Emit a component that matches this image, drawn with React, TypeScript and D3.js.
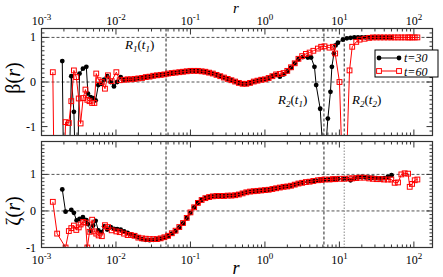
import React from "react";
import * as d3 from "d3";

// t = 30 : log10(r) grid and the two correlation functions
const logR30 = [
  -2.721, -2.677, -2.6, -2.565, -2.529, -2.489, -2.444, -2.398, -2.377, -2.341,
  -2.307, -2.273, -2.237, -2.197, -2.159, -2.118, -2.071, -2.027, -1.984, -1.937,
  -1.89, -1.843, -1.8, -1.75, -1.7, -1.65, -1.6, -1.55, -1.5, -1.45,
  -1.4, -1.35, -1.3, -1.25, -1.2, -1.15, -1.1, -1.05, -1.0, -0.95,
  -0.9, -0.85, -0.8, -0.75, -0.7, -0.65, -0.6, -0.55, -0.5, -0.45,
  -0.4, -0.35, -0.3, -0.25, -0.2, -0.15, -0.1, -0.05, 0.0, 0.05,
  0.1, 0.15, 0.2, 0.25, 0.3, 0.35, 0.4, 0.45, 0.509, 0.576,
  0.62, 0.665, 0.688, 0.742, 0.795, 0.845, 0.88, 0.899, 0.926, 0.948,
  0.98, 1.047, 1.1, 1.15, 1.2, 1.25, 1.3, 1.35, 1.4, 1.45,
  1.5, 1.55, 1.6, 1.65, 1.7,
];
const beta30 = [
  0.47, -6, 0.13, -0.67, -3, 0.19, 0.3, 0.34, -0.26, -0.34,
  -0.36, -0.41, -0.07, -0.04, 0.05, 0.13, 0.0, -0.1, 0.0, 0.11,
  0.05, 0.06, 0.06, 0.06, 0.08, 0.1, 0.11, 0.12, 0.13, 0.15,
  0.16, 0.17, 0.18, 0.2, 0.21, 0.22, 0.23, 0.24, 0.25, 0.25,
  0.25, 0.24, 0.23, 0.21, 0.19, 0.16, 0.13, 0.1, 0.07, 0.04,
  0.01, -0.02, -0.04, -0.04, -0.02, 0.01, 0.03, 0.05, 0.06, 0.08,
  0.13, 0.16, 0.12, 0.17, 0.24, 0.32, 0.42, 0.51, 0.56, 0.55,
  0.55, 0.34, -0.07, -0.6, -2.0, -0.82, -0.22, 0.34, 0.64, 0.82,
  0.88, 0.95, 0.98, 0.99, 1.0, 1.0, 1.0, 1.0, 1.0, 1.0,
  1.0, 1.0, 1.0, 1.0, 1.0,
];
const zeta30 = [
  0.59, -0.02, 0.03, -0.05, -0.26, -0.22, -0.17, -0.25, -0.36, -0.55,
  -0.4, -0.27, -0.53, -0.58, -0.42, -0.51, -0.44, -0.49, -0.5, -0.51,
  -0.56, -0.6, -0.64, -0.68, -0.72, -0.77, -0.79, -0.8, -0.79, -0.78,
  -0.76, -0.73, -0.69, -0.62, -0.55, -0.45, -0.34, -0.2, -0.05, 0.1,
  0.22, 0.3, 0.35, 0.38, 0.4, 0.41, 0.41, 0.41, 0.42, 0.42,
  0.43, 0.45, 0.48, 0.51, 0.53, 0.54, 0.55, 0.56, 0.57, 0.58,
  0.6, 0.62, 0.64, 0.66, 0.67, 0.69, 0.72, 0.75, 0.77, 0.8,
  0.81, 0.82, 0.83, 0.84, 0.85, 0.86, 0.86, 0.86, 0.87, 0.87,
  0.88, 0.88, 0.88, 0.84, 0.89, 0.92, 0.93, 0.92, 0.91, 0.91,
  0.9, 0.89, 0.9, 0.93, 0.98,
];

// t = 60
const logR60 = [
  -2.848, -2.79, -2.677, -2.633, -2.6, -2.565, -2.533, -2.5, -2.475, -2.441,
  -2.41, -2.385, -2.355, -2.32, -2.29, -2.265, -2.233, -2.19, -2.148, -2.108,
  -2.058, -1.995, -1.95, -1.892, -1.843, -1.8, -1.75, -1.7, -1.65, -1.6,
  -1.55, -1.5, -1.45, -1.4, -1.35, -1.3, -1.25, -1.2, -1.15, -1.1,
  -1.05, -1.0, -0.95, -0.9, -0.85, -0.8, -0.75, -0.7, -0.65, -0.6,
  -0.55, -0.5, -0.45, -0.4, -0.35, -0.3, -0.25, -0.2, -0.15, -0.1,
  -0.05, 0.0, 0.05, 0.1, 0.15, 0.2, 0.25, 0.3, 0.35, 0.4,
  0.45, 0.5, 0.55, 0.6, 0.65, 0.711, 0.755, 0.8, 0.867, 0.913,
  0.943, 1.001, 1.065, 1.136, 1.172, 1.226, 1.271, 1.338, 1.4, 1.45,
  1.5, 1.55, 1.6, 1.65, 1.697, 1.742, 1.787, 1.832, 1.876, 1.922,
  1.944, 1.976, 2.011, 2.047,
];
const beta60 = [
  0.22, -8, -0.9, -0.92, -0.43, 0.26, 0.11, -0.37, -0.93, -0.36,
  -0.17, -0.4, -0.43, -0.47, -0.47, 0.19, 0.04, 0.0, -0.15, 0.15,
  0.02, 0.22, 0.04, 0.05, 0.06, 0.06, 0.07, 0.08, 0.09, 0.11,
  0.12, 0.14, 0.15, 0.16, 0.17, 0.19, 0.2, 0.21, 0.22, 0.23,
  0.24, 0.25, 0.25, 0.25, 0.24, 0.23, 0.21, 0.19, 0.16, 0.13,
  0.1, 0.07, 0.04, 0.01, -0.02, -0.04, -0.04, -0.02, 0.01, 0.03,
  0.05, 0.06, 0.09, 0.13, 0.17, 0.18, 0.2, 0.25, 0.33, 0.42,
  0.52, 0.58, 0.63, 0.66, 0.7, 0.75, 0.79, 0.8, 0.77, 0.79,
  0.64, 0.0, -3.3, 0.26, 0.79, 0.9, 0.95, 0.97, 0.99, 1.0,
  1.0, 1.0, 1.0, 1.0, 1.0, 1.0, 1.0, 1.0, 1.0, 1.0,
  1.0, 1.0, 1.0, 1.0,
];
const zeta60 = [
  0.25, -0.62, -1.0, -0.55, -0.47, -0.4, -0.52, -0.45, -0.37, -0.3,
  -0.32, -1.0, -0.57, -0.24, -0.56, -0.62, -0.67, -0.69, -0.39, -0.44,
  -0.53, -0.56, -0.58, -0.62, -0.66, -0.66, -0.68, -0.73, -0.75, -0.76,
  -0.77, -0.77, -0.77, -0.75, -0.72, -0.68, -0.61, -0.54, -0.44, -0.33,
  -0.19, -0.04, 0.1, 0.22, 0.3, 0.35, 0.38, 0.4, 0.41, 0.41,
  0.41, 0.42, 0.42, 0.43, 0.45, 0.48, 0.51, 0.53, 0.54, 0.55,
  0.56, 0.57, 0.58, 0.6, 0.62, 0.64, 0.66, 0.67, 0.69, 0.72,
  0.75, 0.77, 0.79, 0.8, 0.82, 0.84, 0.85, 0.86, 0.86, 0.87,
  0.87, 0.88, 0.88, 0.89, 0.89, 0.9, 0.91, 0.91, 0.89, 0.88,
  0.87, 0.87, 0.86, 0.86, 0.86, 0.77, 0.78, 1.0, 1.03, 1.02,
  0.66, 0.74, 0.84, 0.86,
];

const decades = [-3, -2, -1, 0, 1, 2];
const yMajor = [-1, 0, 1];
const markR = [0.047, 6.2, 11.6];

const FONT = "'Liberation Serif', 'Times New Roman', serif";
const RED = "#ff0000";

const left = 41.5, right = 432.5;
const x = d3.scaleLog().domain([1e-3, Math.pow(10, 2.25)]).range([left, right]);

const minorR: number[] = [];
decades.forEach((d) => {
  for (let k = 2; k <= 9; k++) {
    const r = k * Math.pow(10, d);
    if (r <= x.domain()[1]) minorR.push(r);
  }
});

type PanelProps = {
  id: string;
  y0: number;
  y1: number;
  domain: [number, number];
  v30: number[];
  v60: number[];
  lastDotted: boolean;
};

function Panel({ id, y0, y1, domain, v30, v60, lastDotted }: PanelProps) {
  const y = d3.scaleLinear().domain(domain).range([y1, y0]);
  const minorY = d3.range(-12, 20).map((i) => i / 10).filter((v) => v > domain[0] && v < domain[1]);
  const line = d3.line<[number, number]>();
  const p30 = logR30.map((lr, i) => [x(Math.pow(10, lr)), y(v30[i])] as [number, number]);
  const p60 = logR60.map((lr, i) => [x(Math.pow(10, lr)), y(v60[i])] as [number, number]);
  return (
    <g>
      <defs>
        <clipPath id={id}>
          <rect x={left} y={y0} width={right - left} height={y1 - y0} />
        </clipPath>
      </defs>
      {[0, 1].map((v) => (
        <line key={v} x1={left} x2={right} y1={y(v)} y2={y(v)} stroke="#555" strokeDasharray="3,2" />
      ))}
      {markR.map((r, i) => (
        <line key={i} x1={x(r)} x2={x(r)} y1={y0} y2={y1}
          stroke={lastDotted && i === 2 ? "#888" : "#222"}
          strokeDasharray={lastDotted && i === 2 ? "1.5,1.5" : "3,2"} />
      ))}
      <g clipPath={`url(#${id})`}>
        <path d={line(p30) || ""} fill="none" stroke="#000" strokeWidth={1} />
        {p30.map(([px, py], i) => (
          <circle key={i} cx={px} cy={py} r={2.4} fill="#000" />
        ))}
        <path d={line(p60) || ""} fill="none" stroke={RED} strokeWidth={1} />
        {p60.map(([px, py], i) => (
          <rect key={i} x={px - 2.4} y={py - 2.4} width={4.8} height={4.8} fill="none" stroke={RED} strokeWidth={1} />
        ))}
      </g>
      {/* ticks */}
      {decades.map((d) => {
        const px = x(Math.pow(10, d));
        return (
          <g key={d}>
            <line x1={px} x2={px} y1={y0} y2={y0 + 6} stroke="#333" />
            <line x1={px} x2={px} y1={y1} y2={y1 - 6} stroke="#333" />
          </g>
        );
      })}
      {minorR.map((r, i) => (
        <g key={i}>
          <line x1={x(r)} x2={x(r)} y1={y0} y2={y0 + 3} stroke="#333" />
          <line x1={x(r)} x2={x(r)} y1={y1} y2={y1 - 3} stroke="#333" />
        </g>
      ))}
      {minorY.map((v, i) => {
        const major = yMajor.includes(v);
        const len = major ? 6 : 3;
        return (
          <g key={i}>
            <line x1={left} x2={left + len} y1={y(v)} y2={y(v)} stroke="#333" />
            <line x1={right} x2={right - len} y1={y(v)} y2={y(v)} stroke="#333" />
          </g>
        );
      })}
      {yMajor.map((v) => (
        <text key={v} x={36} y={y(v) + 4} textAnchor="end" fontSize={12} fontFamily={FONT}>
          {v < 0 ? "-" + Math.abs(v) : v}
        </text>
      ))}
      <rect x={left} y={y0} width={right - left} height={y1 - y0} fill="none" stroke="#333" strokeWidth={1.2} />
    </g>
  );
}

function DecadeLabels({ baseline }: { baseline: number }) {
  return (
    <g fontFamily={FONT}>
      {decades.map((d) => (
        <text key={d} x={x(Math.pow(10, d))} y={baseline} textAnchor="middle" fontSize={12}>
          10<tspan fontSize={9} dy={-5}>{d < 0 ? "-" + Math.abs(d) : d}</tspan>
        </text>
      ))}
    </g>
  );
}

function RLabel({ px, py, n, t }: { px: number; py: number; n: string; t: string }) {
  return (
    <text x={px} y={py} fontSize={13} fontStyle="italic" fontFamily={FONT}>
      R<tspan fontSize={9} dy={3}>{n}</tspan>
      <tspan fontStyle="normal" dy={-3}>(</tspan>t<tspan fontSize={9} dy={3}>{t}</tspan>
      <tspan fontStyle="normal" dy={-3}>)</tspan>
    </text>
  );
}

export default function App() {
  return (
    <svg width={443} height={277} style={{ position: "absolute", left: 0, top: 0, background: "#fff" }}>
      <rect width={443} height={277} fill="#fff" />
      <Panel id="clipTop" y0={28.5} y1={135.5} domain={[-1.2, 1.2]} v30={beta30} v60={beta60} lastDotted={false} />
      <Panel id="clipBot" y0={141.5} y1={247.5} domain={[-1, 1.9]} v30={zeta30} v60={zeta60} lastDotted={true} />
      <DecadeLabels baseline={25} />
      <DecadeLabels baseline={264} />
      <text x={236} y={13} textAnchor="middle" fontSize={15} fontStyle="italic" fontFamily={FONT}>r</text>
      <text x={236} y={274} textAnchor="middle" fontSize={18} fontStyle="italic" fontFamily={FONT}>r</text>
      <text transform="translate(20,78) rotate(-90)" textAnchor="middle" fontSize={20} fontFamily={FONT}>
        β(<tspan fontStyle="italic">r</tspan>)
      </text>
      <text transform="translate(20,211) rotate(-90)" textAnchor="middle" fontSize={20} fontFamily={FONT}>
        ζ(<tspan fontStyle="italic">r</tspan>)
      </text>
      <RLabel px={125} py={49} n="1" t="1" />
      <RLabel px={278} py={104} n="2" t="1" />
      <RLabel px={352} py={104} n="2" t="2" />
      {/* legend */}
      <g>
        <rect x={375} y={50} width={63} height={27} fill="#fff" stroke="#000" strokeWidth={1} />
        <line x1={379} x2={399} y1={58} y2={58} stroke="#000" />
        <circle cx={379} cy={58} r={2.4} fill="#000" />
        <circle cx={399} cy={58} r={2.4} fill="#000" />
        <text x={404} y={62} fontSize={12} fontStyle="italic" fontFamily={FONT}>t=30</text>
        <line x1={379} x2={399} y1={71} y2={71} stroke={RED} />
        <rect x={376.6} y={68.6} width={4.8} height={4.8} fill="#fff" stroke={RED} />
        <rect x={396.6} y={68.6} width={4.8} height={4.8} fill="#fff" stroke={RED} />
        <text x={404} y={75.5} fontSize={12} fontStyle="italic" fontFamily={FONT}>t=60</text>
      </g>
    </svg>
  );
}
